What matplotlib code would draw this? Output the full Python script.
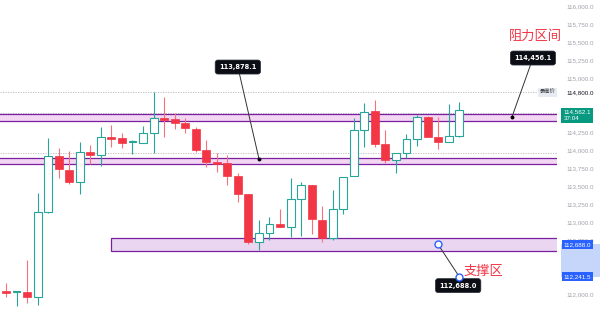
import matplotlib
matplotlib.use("Agg")
import matplotlib.pyplot as plt
import matplotlib.transforms as mtransforms
from matplotlib.patches import Rectangle

plt.rcParams['font.family'] = ['DejaVu Sans', 'Noto Sans CJK SC']

# K线数据 (开, 高, 低, 收)
opens = [112035, 112025, 112030, 111960, 113140, 113920, 113720, 113555, 113975, 113925,
         114175, 114160, 114110, 114100, 114230, 114440, 114425, 114375, 114290, 114000,
         113835, 113815, 113640, 113390, 112725, 112850, 112970, 112925, 113315, 113515,
         113030, 112775, 113175, 113635, 114275, 114540, 114085, 113860, 113965, 114150,
         114455, 114185, 114105, 114200]
highs = [112155, 112045, 112470, 113405, 114165, 114030, 113985, 114110, 114070, 114325,
         114345, 114240, 114140, 114335, 114800, 114735, 114510, 114445, 114320, 114140,
         113955, 113930, 113675, 113390, 113025, 113075, 113175, 113605, 113560, 113515,
         113220, 113445, 113630, 114440, 114655, 114695, 114275, 113965, 114220, 114485,
         114470, 114455, 114640, 114670]
lows = [111960, 111840, 111875, 111845, 113125, 113610, 113525, 113390, 113805, 113775,
        114040, 114025, 113945, 114095, 113960, 114185, 114285, 114230, 113970, 113770,
        113700, 113515, 113280, 112690, 112610, 112750, 112925, 112795, 112810, 112835,
        112725, 112750, 113110, 113635, 114045, 114045, 113825, 113685, 113895, 114055,
        114185, 114015, 114105, 114185]
closes = [112020, 112035, 111960, 113140, 113920, 113730, 113560, 113975, 113930, 114175,
          114155, 114095, 114120, 114230, 114440, 114420, 114380, 114300, 114000, 113835,
          113805, 113640, 113390, 112725, 112850, 112970, 112925, 113315, 113515, 113035,
          112775, 113175, 113630, 114275, 114530, 114085, 113860, 113965, 114150, 114460,
          114185, 114105, 114200, 114562.1]

# 区间
resist_top = (114500, 114405)      # 上方阻力区间
resist_low = (113884, 113801)      # 下方阻力区间
support_box = (112773, 112597)     # 支撑区
support_start = 10
dotted_levels = [114800, 114520, 113960]

yticks = [116000, 115750, 115500, 115250, 115000, 114250, 114000, 113750,
          113500, 113250, 113000, 112750, 112500, 112000]

# 标注 (指向位置, 标签位置, 文字)
callouts = [
    ((24, 113878.1), (22, 115152), "113,878.1"),
    ((48, 114456.1), (50, 115277), "114,456.1"),
]
support_pts = [(41, 112688.0), (43, 112241.5)]
support_label = "112,688.0"

green = '#26a69a'
red = '#f23645'
purple = '#7b1fa2'

fig = plt.figure(figsize=(6, 3.11), dpi=100)
ax = fig.add_axes([0, 0, 557 / 600, 1])
ax.set_xlim(-0.57, 52.28)
ax.set_ylim(111764, 116083)
for s in ax.spines.values():
    s.set_visible(False)
ax.set_xticks([])

# 虚线
for lv in dotted_levels:
    ax.axhline(lv, color='#b8b8b8', lw=0.6, ls=(0, (1.5, 1.5)), zorder=1)

# 阻力带
for top, bot in (resist_top, resist_low):
    ax.axhspan(bot, top, color='#f2d6f2', zorder=1, lw=0)
    ax.axhline(top, color=purple, lw=0.9, zorder=1.5)
    ax.axhline(bot, color=purple, lw=0.9, zorder=1.5)

# 支撑区
ax.add_patch(Rectangle((support_start, support_box[1]), 60, support_box[0] - support_box[1],
                       facecolor='#ead6f0', edgecolor=purple, lw=0.9, zorder=1.2))

# K线
for i, (o, h, l, c) in enumerate(zip(opens, highs, lows, closes)):
    if c >= o:
        ax.vlines(i, l, h, color=green, lw=0.8, zorder=2)
        ax.bar(i, max(c - o, 15), bottom=o, width=0.75, facecolor='white',
               edgecolor=green, lw=0.8, zorder=3)
    else:
        ax.vlines(i, l, h, color='#f7707a', lw=0.8, zorder=2)
        ax.bar(i, o - c, bottom=c, width=0.75, facecolor=red,
               edgecolor=red, lw=0.5, zorder=3)

# 标注线
for (px, py), (tx, ty), txt in callouts:
    ax.plot([tx, px], [ty, py], color='#333333', lw=0.7, zorder=4)
    ax.plot(px, py, 'o', color='black', ms=1.8, zorder=4)
    ax.text(tx, ty, txt, ha='center', va='center', color='white', fontsize=4.8,
            fontweight='bold', zorder=6,
            bbox=dict(boxstyle='round,pad=0.6,rounding_size=0.4', fc='#0c0e15', ec='#2a2e39', lw=0.5))

(x1, y1), (x2, y2) = support_pts
ax.plot([x1, x2], [y1, y2], color='#333333', lw=0.7, zorder=4)
ax.plot([x1, x2], [y1, y2], 'o', mfc='white', mec='#2962ff', ms=5, mew=1, zorder=7)
ax.text(x2 - 0.1, y2 - 125, support_label, ha='center', va='center', color='white', fontsize=4.8,
        fontweight='bold', zorder=6,
        bbox=dict(boxstyle='round,pad=0.6,rounding_size=0.4', fc='#0c0e15', ec='#2a2e39', lw=0.5))

ax.text(50.2, 115580, "阻力区间", color=red, fontsize=9.5, ha='center', va='center',
        family=['Noto Sans CJK SC'])
ax.text(45.3, 112320, "支撑区", color=red, fontsize=9.5, ha='center', va='center',
        family=['Noto Sans CJK SC'])

# 右侧价格轴
ax.yaxis.tick_right()
ax.set_yticks(yticks)
ax.set_yticklabels([f"{v:,.1f}" for v in yticks])
ax.tick_params(axis='y', length=0, pad=6.5, labelsize=4.5, labelcolor='#9fa2ab')
for lab in ax.get_yticklabels():
    lab.set_family('Liberation Sans')

tr = mtransforms.blended_transform_factory(ax.transAxes, ax.transData)
ax.text(1.0165, 114800, "114,800.0", transform=tr, ha='left', va='center', fontsize=4.5,
        color='#131722', family=['Liberation Sans'], zorder=6)
ax.text(0.997, 114800, "最高价", transform=tr, ha='right', va='center', fontsize=3.8,
        color='#333333', family=['Noto Sans CJK SC'], zorder=6,
        bbox=dict(boxstyle='square,pad=0.35', fc='#e6ebf3', ec='none'))

last = closes[-1]
ax.text(1.012, last - 80, f"{last:,.1f}\n37:04", transform=tr, ha='left', va='center',
        fontsize=4.5, color='white', family=['Liberation Sans'], zorder=6, linespacing=1.25,
        clip_on=False, bbox=dict(boxstyle='square,pad=0.35', fc='#089981', ec='none'))

ax.add_patch(Rectangle((1.007, 112241.5), 0.07, 112688.0 - 112241.5, transform=tr,
                       facecolor='#c6d6fb', edgecolor='none', clip_on=False, zorder=5))
for v in (112688.0, 112241.5):
    ax.text(1.012, v, f"{v:,.1f}", transform=tr, ha='left', va='center', fontsize=4.5,
            color='white', family=['Liberation Sans'], zorder=6, clip_on=False,
            bbox=dict(boxstyle='square,pad=0.3', fc='#2962ff', ec='none'))

fig.savefig('out.png', dpi=100, facecolor='white')
